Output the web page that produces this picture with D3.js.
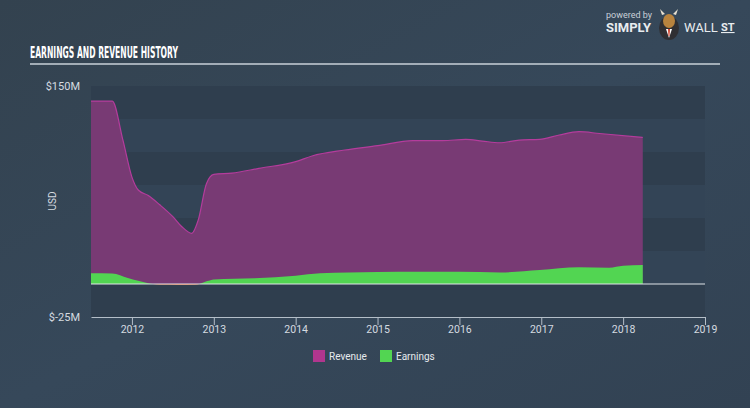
<!DOCTYPE html>
<html><head><meta charset="utf-8">
<script src="https://cdn.jsdelivr.net/npm/d3@7"></script>
<style>
html,body{margin:0;padding:0;background:#344454;}
svg{display:block;}
</style></head>
<body>
<svg id="c" width="750" height="408"></svg>
<script>
// ---- data ----
const revenueDates = [2011.5,2011.76,2011.89,2012.0,2012.08,2012.2,2012.34,2012.5,2012.61,2012.73,2012.81,2012.91,2013.0,2013.22,2013.55,2014.0,2014.2,2014.6,2015.0,2015.43,2015.8,2016.08,2016.28,2016.49,2016.73,2016.98,2017.22,2017.46,2017.71,2018.24];
const revenueValues = [138.6,138.6,109,81,71,67,60,51,43.4,38.4,48.5,76,83,84,87.6,92.7,97,101.5,104.8,108.6,108.6,109.6,108.3,107,109,109.6,112.9,115.4,114,111];
const earningsDates = [2011.5,2011.76,2011.95,2012.2,2012.35,2012.55,2012.78,2012.92,2013.0,2013.5,2014.0,2014.3,2015.0,2015.5,2016.0,2016.5,2016.98,2017.46,2017.83,2018.0,2018.24];
const earningsValues = [8.1,8.0,4.5,0.6,-0.6,-0.7,-0.5,2.2,3.5,4.3,6.2,8.1,9.0,9.3,9.3,8.8,10.6,12.6,12.4,13.9,14.4];
const yTickLabels = ["$150M","$-25M"];
const yTickValues = [150,-25];
const xTickYears = [2012,2013,2014,2015,2016,2017,2018,2019];
const legendItems = ["Revenue","Earnings"];

const svg = d3.select("#c");
const W = 750, H = 408;
const pL = 91, pR = 705, pT = 86, pB = 317;

// background gradient
const defs = svg.append("defs");
const bg = defs.append("linearGradient").attr("id","bg").attr("x1","0").attr("y1","0").attr("x2","1").attr("y2","1");
bg.append("stop").attr("offset","0").attr("stop-color","#33424f");
bg.append("stop").attr("offset","0.5").attr("stop-color","#36485a");
bg.append("stop").attr("offset","1").attr("stop-color","#324253");
svg.append("rect").attr("width",W).attr("height",H).attr("fill","url(#bg)");

const x = d3.scaleLinear().domain([2011.5, 2019]).range([pL, pR]);
const y = d3.scaleLinear().domain([-25, 150]).range([pB, pT]);

// bands every 25M
const bands = d3.range(-25, 150, 25);
svg.append("g").selectAll("rect").data(bands).join("rect")
  .attr("x", pL).attr("width", pR-pL)
  .attr("y", d => y(d+25)).attr("height", d => y(d)-y(d+25))
  .attr("fill", (d,i) => (i%2===0) ? "#2f3e4e" : "#334456");

// title
svg.append("text").attr("x",30).attr("y",58)
  .attr("font-family","'Liberation Sans Narrow','DejaVu Sans Condensed','Roboto Condensed',sans-serif")
  .attr("font-weight","bold").attr("font-size",15).attr("fill","#ffffff")
  .attr("textLength",148).attr("lengthAdjust","spacingAndGlyphs")
  .text("EARNINGS AND REVENUE HISTORY");
svg.append("line").attr("x1",30).attr("x2",720).attr("y1",64).attr("y2",64)
  .attr("stroke","#c9d0d8").attr("stroke-width",1.5);

// logo
svg.append("text").attr("x",606).attr("y",18).attr("font-family","Roboto, sans-serif").attr("font-size",9).attr("fill","#c9d0d8").text("powered by");
svg.append("text").attr("x",606).attr("y",32).attr("font-family","Roboto, sans-serif").attr("font-weight","bold").attr("font-size",13).attr("fill","#e8ecef").text("SIMPLY");
svg.append("text").attr("x",684).attr("y",32).attr("font-family","Roboto, sans-serif").attr("font-size",13).attr("fill","#e8ecef").text("WALL");
svg.append("text").attr("x",721).attr("y",31).attr("font-family","Roboto, sans-serif").attr("font-weight","bold").attr("font-size",11).attr("fill","#e8ecef").attr("text-decoration","underline").text("ST");
const bull = svg.append("g").attr("transform","translate(669,24)");
bull.append("ellipse").attr("rx",10).attr("ry",12).attr("cy",4).attr("fill","#2f2f33");
bull.append("ellipse").attr("rx",6).attr("ry",7).attr("cy",-3).attr("fill","#b8833e");
bull.append("path").attr("d","M-7,-9 L-9,-15 L-4,-10 Z M7,-9 L9,-15 L4,-10 Z").attr("fill","#e8e0d0");
bull.append("path").attr("d","M-3,5 L3,5 L0,14 Z").attr("fill","#ffffff");
bull.append("path").attr("d","M-1,5 L1,5 L0.5,12 L-0.5,12 Z").attr("fill","#d0402a");

// areas
const revData = revenueDates.map((d,i)=>({t:d,v:revenueValues[i]}));
const earnData = earningsDates.map((d,i)=>({t:d,v:earningsValues[i]}));
const revArea = d3.area().x(d=>x(d.t)).y0(y(0)).y1(d=>y(d.v)).curve(d3.curveMonotoneX);
const revLine = d3.line().x(d=>x(d.t)).y(d=>y(d.v)).curve(d3.curveMonotoneX);
svg.append("path").datum(revData).attr("d",revArea).attr("fill","#783a74");
svg.append("path").datum(revData).attr("d",revLine).attr("fill","none").attr("stroke","#b43c9c").attr("stroke-width",1.2);

const earnArea = d3.area().x(d=>x(d.t)).y0(y(0)).y1(d=>y(d.v)).curve(d3.curveMonotoneX);
defs.append("clipPath").attr("id","pos").append("rect").attr("x",0).attr("y",0).attr("width",W).attr("height",y(0));
defs.append("clipPath").attr("id","neg").append("rect").attr("x",0).attr("y",y(0)).attr("width",W).attr("height",H);
svg.append("path").datum(earnData).attr("d",earnArea).attr("fill","#52d552").attr("clip-path","url(#pos)");
svg.append("path").datum(earnData).attr("d",earnArea).attr("fill","#d8622e").attr("clip-path","url(#neg)");

// zero line
svg.append("line").attr("x1",pL).attr("x2",pR).attr("y1",y(0)).attr("y2",y(0))
  .attr("stroke","#e0e4e8").attr("stroke-width",1.2);

// y labels
svg.append("g").selectAll("text").data(yTickValues).join("text")
  .attr("x",80).attr("y",d=>y(d)+4).attr("text-anchor","end")
  .attr("font-family","Roboto, sans-serif").attr("font-size",11).attr("fill","#d5dbe0")
  .text((d,i)=>yTickLabels[i]);
svg.append("text").attr("transform","translate(56,201) rotate(-90)").attr("text-anchor","middle")
  .attr("font-family","Roboto, sans-serif").attr("font-size",10).attr("fill","#d5dbe0").text("USD");

// x axis
const xAxis = d3.axisBottom(x).tickValues(xTickYears).tickFormat(d3.format("d")).tickSize(8).tickSizeOuter(0);
const gx = svg.append("g").attr("transform",`translate(0,${pB})`).call(xAxis);
gx.select(".domain").attr("stroke","#b4bec8");
gx.selectAll(".tick line").attr("stroke","#b4bec8");
gx.selectAll(".tick text").attr("font-family","Roboto, sans-serif").attr("font-size",10.5).attr("fill","#d5dbe0").attr("dy","0.5em");

// legend
const legColors = ["#b0368e","#52d552"];
const legX = [313,380];
const lg = svg.append("g");
legendItems.forEach((name,i)=>{
  lg.append("rect").attr("x",legX[i]).attr("y",350).attr("width",12).attr("height",12).attr("fill",legColors[i]);
  lg.append("text").attr("x",legX[i]+16).attr("y",360).attr("font-family","Roboto, sans-serif").attr("font-size",10).attr("fill","#e6eaee").text(name);
});
</script>
</body></html>
